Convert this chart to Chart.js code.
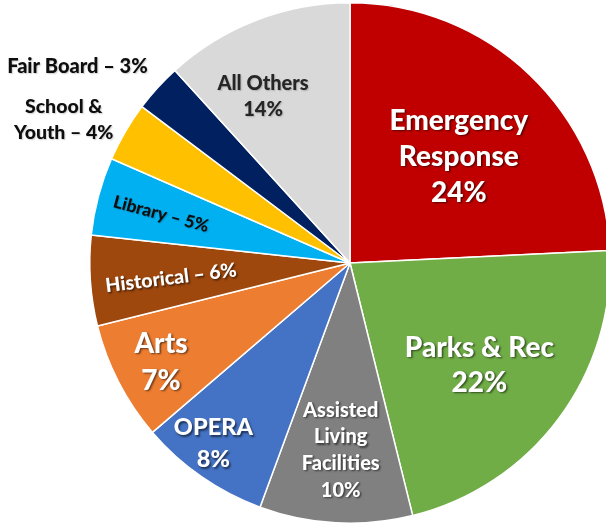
<!DOCTYPE html>
<html>
<head>
<meta charset="utf-8">
<script src="https://cdn.jsdelivr.net/npm/chart.js@4/dist/chart.umd.min.js"></script>
<style>
  html, body { margin: 0; padding: 0; background: #fff; overflow: hidden; }
  #wrap { position: absolute; left: 0; top: 0; width: 700px; height: 526px; }
</style>
</head>
<body>
<div id="wrap"><canvas id="myChart"></canvas></div>
<script>
// slice order, clockwise from 12 o'clock
const categories = ['Emergency Response', 'Parks & Rec', 'Assisted Living Facilities', 'OPERA', 'Arts',
  'Historical', 'Library', 'School & Youth', 'Fair Board', 'All Others'];
// shares (printed labels are rounded)
const shares = [24.25, 21.9, 9.5, 8.1, 7.4, 5.6, 4.85, 3.7, 3.0, 11.75];
const percentLabels = ['24%', '22%', '10%', '8%', '7%', '6%', '5%', '4%', '3%', '14%'];
const colors = ['#C00000', '#70AD47', '#808080', '#4472C4', '#ED7D31',
  '#9E480E', '#00B0F0', '#FFC000', '#002060', '#D9D9D9'];

// how each label is written and placed: r = fraction of radius, da = degrees off slice middle
const labelStyle = [
  { lines: ['Emergency', 'Response', '24%'], size: 28, lh: 36, r: 0.585, da: 2, color: '#fff', shadow: true },
  { lines: ['Parks & Rec', '22%'], size: 28, lh: 35, r: 0.633, da: 1.6, color: '#fff', shadow: true },
  { lines: ['Assisted', 'Living', 'Facilities', '10%'], size: 20, lh: 26.7, r: 0.72, da: -0.3, color: '#fff', shadow: true },
  { lines: ['OPERA', '8%'], size: 23.5, lh: 32, r: 0.87, da: 2.3, color: '#fff', shadow: true },
  { lines: ['Arts', '7%'], size: 28, lh: 37, r: 0.82, da: -0.4, color: '#fff', shadow: true },
  { lines: ['Historical \u2013 6%'], size: 19.5, lh: 20, r: 0.69, da: -0.9, color: '#fff', shadow: true, rot: -7 },
  { lines: ['Library \u2013 5%'], size: 17.5, lh: 18, r: 0.75, da: -0.4, color: '#0d0d0d', shadow: false, rot: 15 },
  { lines: ['School &', 'Youth \u2013 4%'], size: 19.5, lh: 26, r: 1.23, da: -3.7, color: '#0d0d0d', shadow: false },
  { lines: ['Fair Board \u2013 3%'], size: 20, lh: 20, r: 1.29, da: -6.6, color: '#0d0d0d', shadow: false },
  { lines: ['All Others', '14%'], size: 20, lh: 26, r: 0.72, da: -6.5, color: '#262626', shadow: false }
];

const sliceLabels = {
  id: 'sliceLabels',
  afterDatasetsDraw(chart) {
    const ctx = chart.ctx;
    const arcs = chart.getDatasetMeta(0).data;
    arcs.forEach((arc, i) => {
      const s = labelStyle[i];
      const mid = (arc.startAngle + arc.endAngle) / 2 + s.da * Math.PI / 180;
      const r = arc.outerRadius * s.r;
      const cx = arc.x + Math.cos(mid) * r;
      const cy = arc.y + Math.sin(mid) * r;
      ctx.save();
      ctx.translate(cx, cy);
      if (s.rot) ctx.rotate(s.rot * Math.PI / 180);
      ctx.font = '900 ' + s.size + 'px Lato, "Open Sans", sans-serif';
      ctx.textAlign = 'center';
      ctx.textBaseline = 'middle';
      ctx.fillStyle = s.color;
      if (s.shadow) {
        ctx.shadowColor = 'rgba(0,0,0,0.55)';
        ctx.shadowBlur = 2;
        ctx.shadowOffsetX = 1.5;
        ctx.shadowOffsetY = 1.5;
      } else {
        ctx.shadowColor = 'rgba(0,0,0,0.2)';
        ctx.shadowBlur = 1.5;
        ctx.shadowOffsetX = 1;
        ctx.shadowOffsetY = 1;
      }
      const top = -(s.lines.length - 1) * s.lh / 2;
      s.lines.forEach((t, k) => ctx.fillText(t, 0, top + k * s.lh));
      ctx.restore();
    });
  }
};

const ctx = document.getElementById('myChart');
new Chart(ctx, {
  type: 'pie',
  data: {
    labels: categories,
    datasets: [{
      data: shares,
      backgroundColor: colors,
      borderColor: '#ffffff',
      borderWidth: 1.5
    }]
  },
  options: {
    responsive: true,
    maintainAspectRatio: false,
    animation: false,
    layout: { padding: 2 },
    plugins: {
      legend: { display: false },
      tooltip: { enabled: false }
    }
  },
  plugins: [sliceLabels]
});
</script>
</body>
</html>
